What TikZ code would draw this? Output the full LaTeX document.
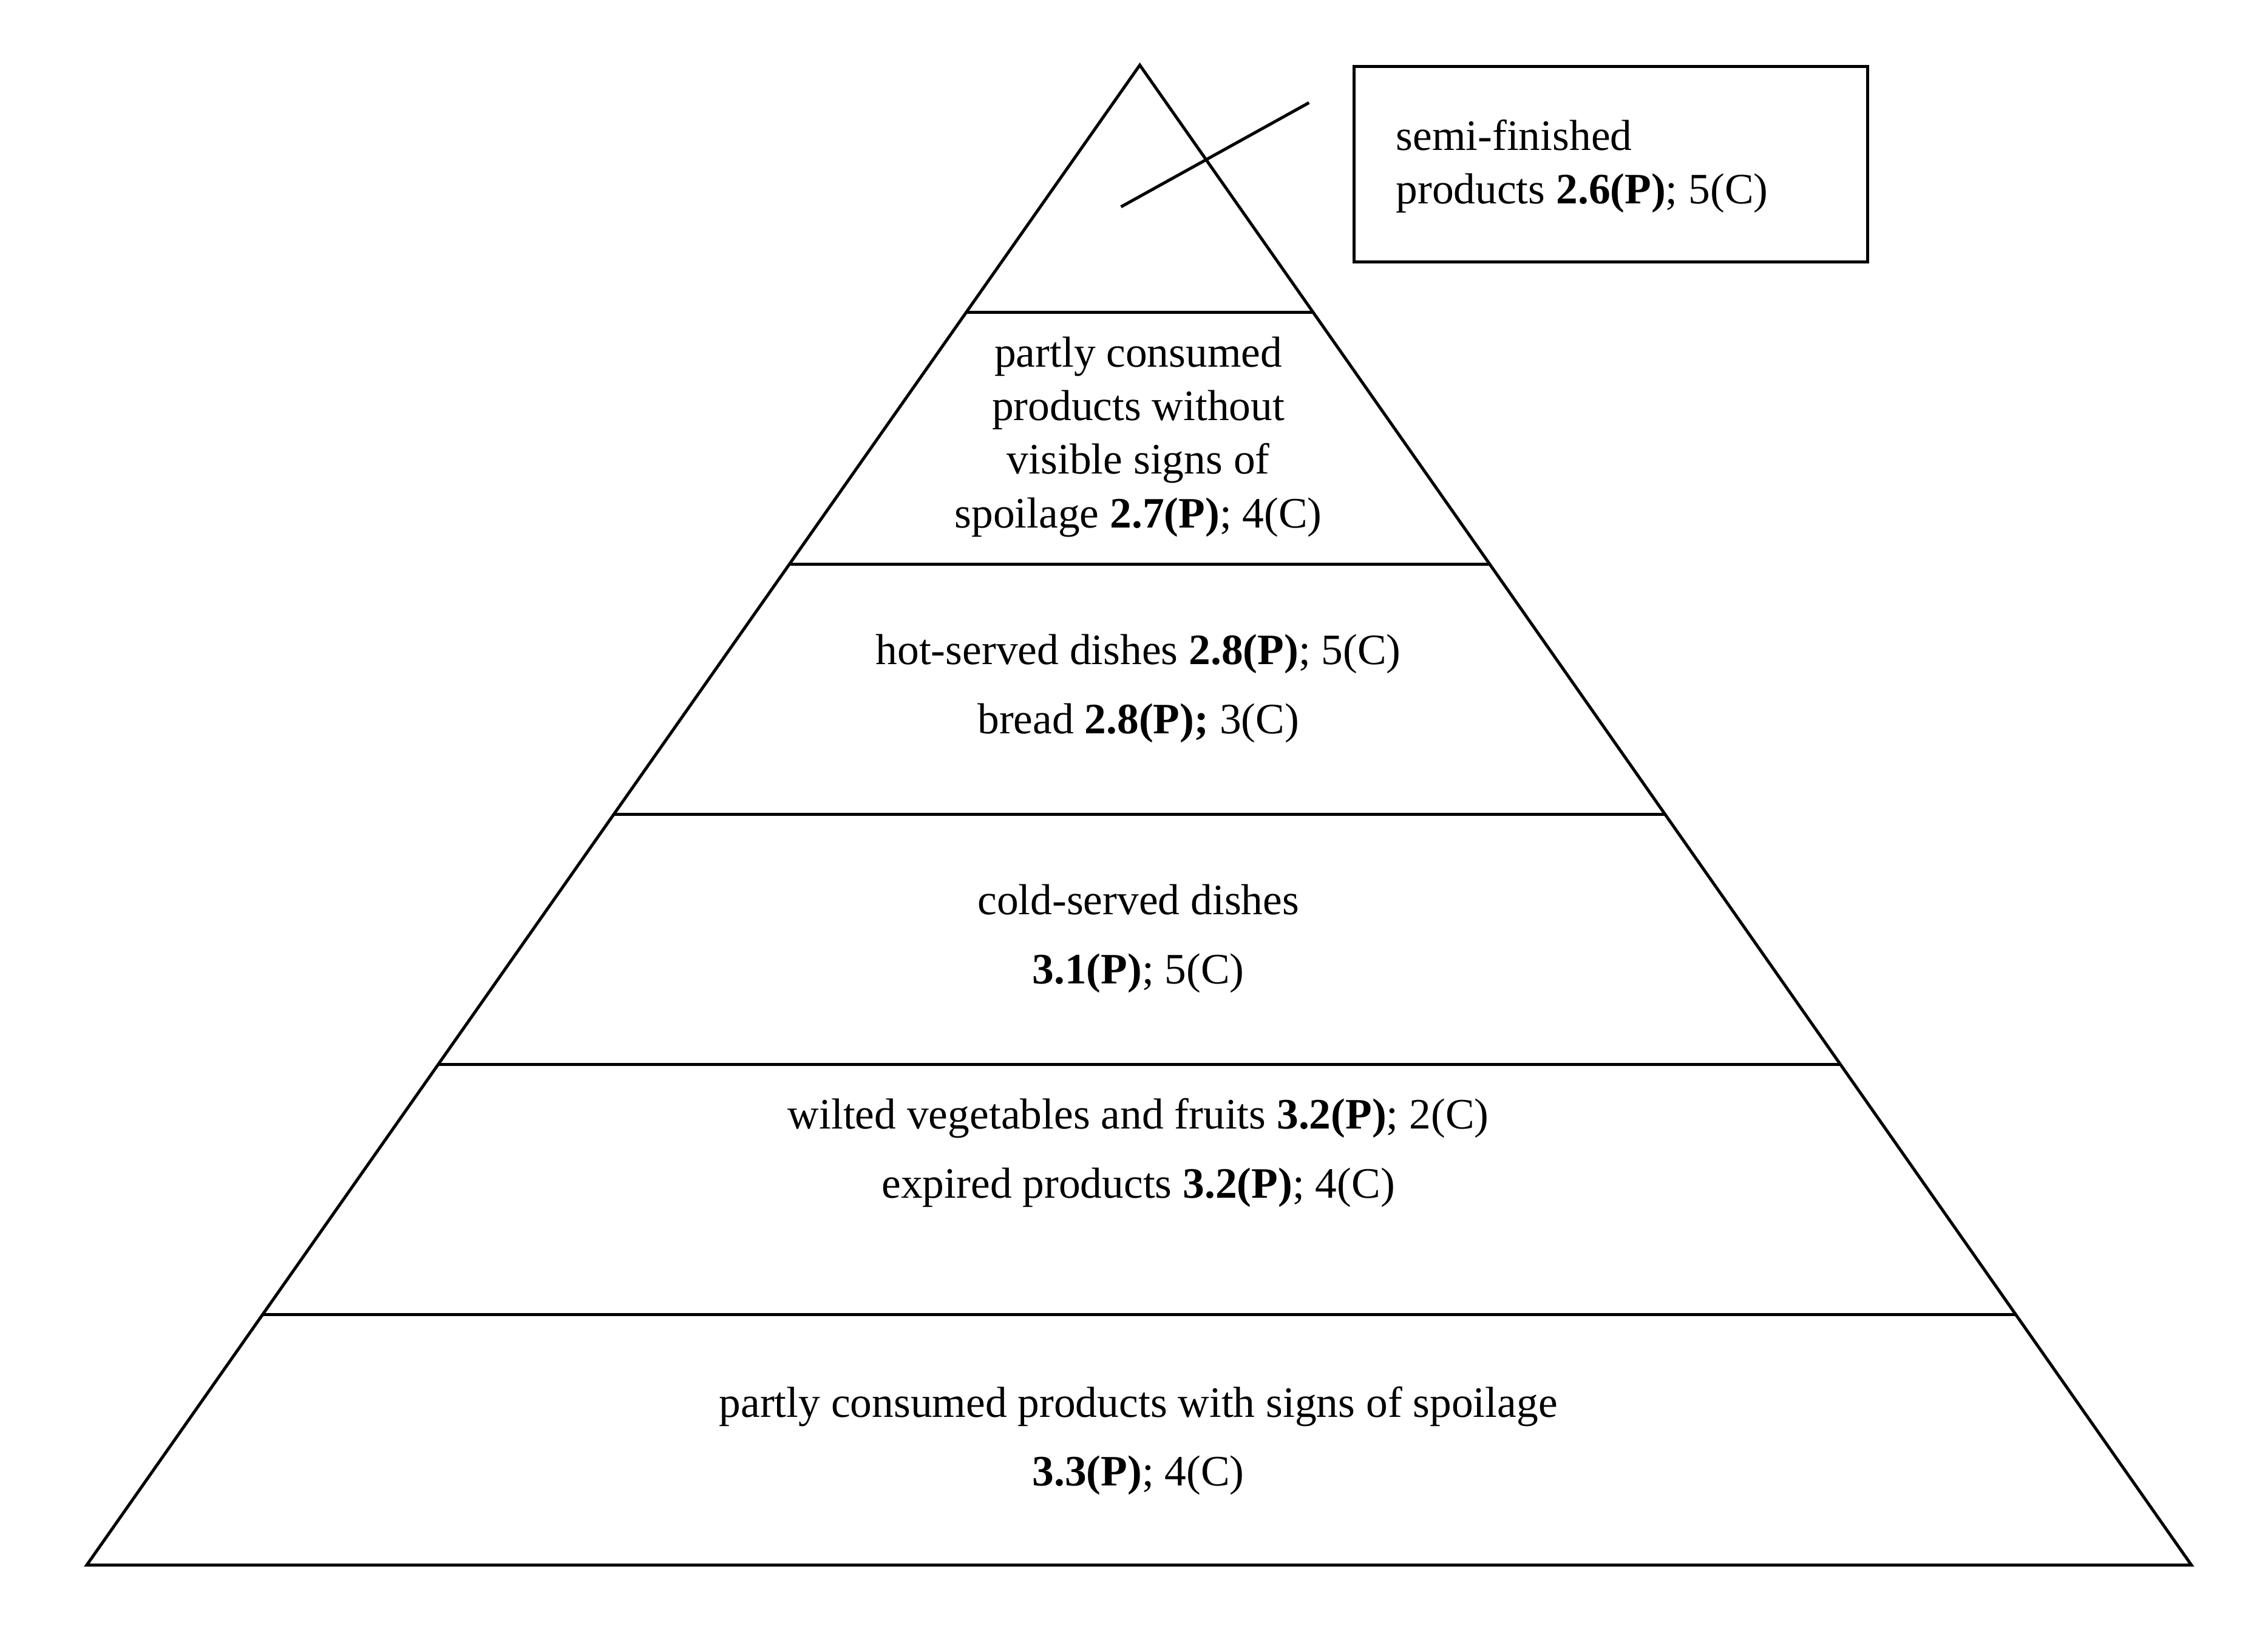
\documentclass[tikz,border=0pt]{standalone}
\usepackage{fontspec}
\setmainfont{Liberation Serif}
\usetikzlibrary{calc}
\begin{document}
\begin{tikzpicture}[x=2.401pt,y=-2.401pt,
  lbl/.style={align=center,font=\fontsize{72}{89}\selectfont,inner sep=0pt},
  ln/.style={line width=5pt}]
\useasboundingbox (0,0) rectangle (1568,1131);
\coordinate (apex) at (788,45);
\coordinate (bl) at (60,1082);
\coordinate (br) at (1515,1082);
\draw[ln,line join=miter] (apex) -- (bl) -- (br) -- cycle;
\foreach \y in {216,390,563,736,909}{
  \draw[ln] ($(apex)!{(\y-45)/1037}!(bl)$) -- ($(apex)!{(\y-45)/1037}!(br)$);
}
\node[draw,ln,minimum width=355*2.401pt,minimum height=135*2.401pt,anchor=north west] (box) at (935,45) {};
\node[lbl,align=left,anchor=west] (t0) at (965,115) {semi-finished\\products \textbf{2.6(P)}; 5(C)};
\coordinate (c1) at (775,143);
\coordinate (c2) at (905,71);
\draw[ln] (c1) -- (c2);
\node[lbl] (t1) at (787,302) {partly consumed\\products without\\visible signs of\\spoilage \textbf{2.7(P)}; 4(C)};
\node[lbl] (t2) at (787,476) {hot-served dishes \textbf{2.8(P)}; 5(C)\\[0.35em]bread \textbf{2.8(P);} 3(C)};
\node[lbl] (t3) at (787,649) {cold-served dishes\\[0.35em]\textbf{3.1(P)}; 5(C)};
\node[lbl] (t4) at (787,797) {wilted vegetables and fruits \textbf{3.2(P)}; 2(C)\\[0.35em]expired products \textbf{3.2(P)}; 4(C)};
\node[lbl] (t5) at (787,996) {partly consumed products with signs of spoilage\\[0.35em]\textbf{3.3(P)}; 4(C)};
\end{tikzpicture}
\end{document}
